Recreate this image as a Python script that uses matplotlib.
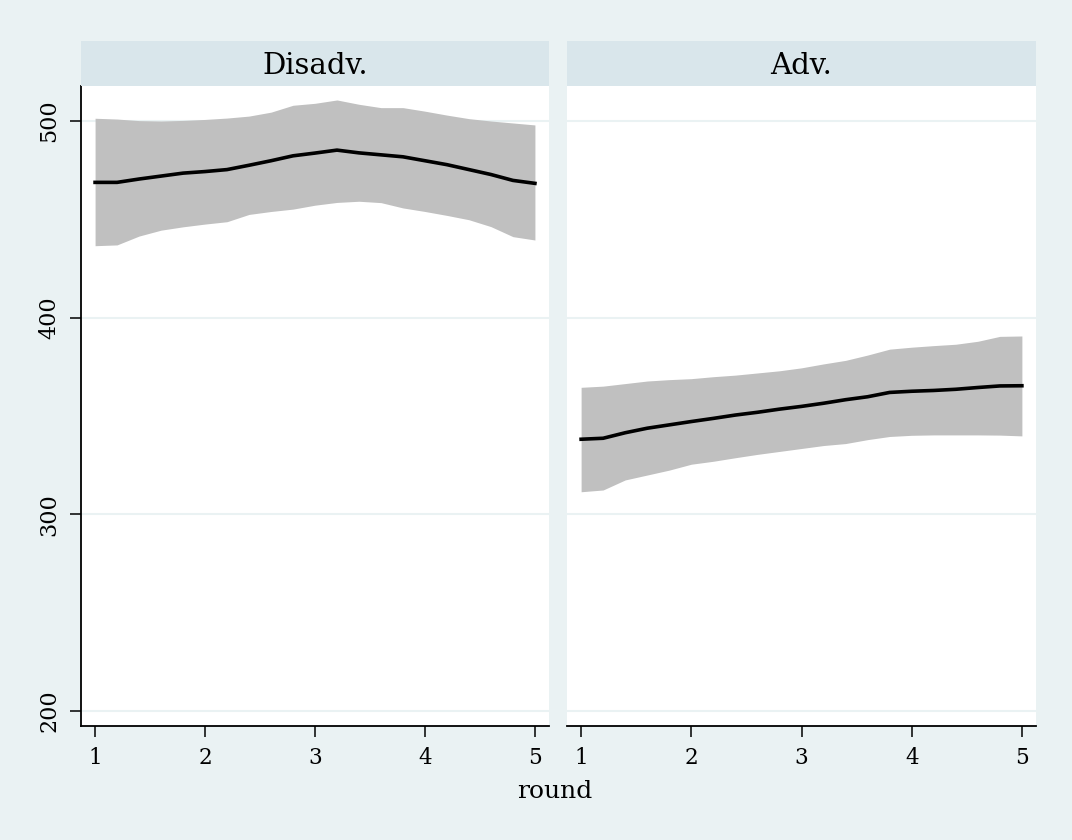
import matplotlib
matplotlib.use("Agg")
import matplotlib.pyplot as plt

# data
rounds = [1.0, 1.2, 1.4, 1.6, 1.8, 2.0, 2.2, 2.4, 2.6, 2.8, 3.0,
          3.2, 3.4, 3.6, 3.8, 4.0, 4.2, 4.4, 4.6, 4.8, 5.0]

disadv_mean = [468.8, 468.8, 470.5, 472.0, 473.5, 474.3, 475.3, 477.5, 479.8, 482.3, 483.7,
               485.2, 483.8, 482.8, 481.8, 479.8, 477.8, 475.3, 472.8, 469.8, 468.3]
disadv_hi = [501.4, 501.0, 500.2, 500.0, 500.3, 500.8, 501.5, 502.5, 504.5, 508.0, 509.0,
             510.7, 508.5, 506.8, 506.8, 505.0, 503.0, 501.2, 500.0, 499.0, 498.0]
disadv_lo = [436.6, 437.0, 441.5, 444.5, 446.2, 447.6, 448.8, 452.5, 454.0, 455.2, 457.2,
             458.6, 459.2, 458.5, 455.8, 454.0, 452.0, 449.8, 446.3, 441.2, 439.5]

adv_mean = [338.2, 338.7, 341.5, 343.8, 345.5, 347.2, 348.8, 350.5, 351.9, 353.5, 354.9,
            356.5, 358.3, 359.8, 362.0, 362.6, 363.0, 363.6, 364.5, 365.3, 365.4]
adv_hi = [364.6, 365.2, 366.5, 367.8, 368.5, 369.0, 370.0, 370.8, 371.9, 373.0, 374.5,
          376.5, 378.3, 381.0, 384.0, 385.0, 385.8, 386.5, 388.0, 390.5, 390.7]
adv_lo = [311.5, 312.4, 317.5, 320.0, 322.5, 325.5, 327.0, 328.8, 330.5, 332.0, 333.5,
          335.0, 336.0, 338.0, 339.6, 340.2, 340.4, 340.4, 340.4, 340.3, 339.9]

panels = ["Disadv.", "Adv."]
xticks = [1, 2, 3, 4, 5]
yticks = [200, 300, 400, 500]

BG = "#EAF2F3"
STRIP = "#D9E6EB"
plt.rcParams["font.family"] = "DejaVu Serif"

fig = plt.figure(figsize=(10.72, 8.4), dpi=100, facecolor=BG)
W, H = 1072, 840

def px_axes(x0, y0, x1, y1):
    return fig.add_axes([x0 / W, 1 - y1 / H, (x1 - x0) / W, (y1 - y0) / H])

series = [(disadv_mean, disadv_hi, disadv_lo), (adv_mean, adv_hi, adv_lo)]
lefts = [(81, 549), (567, 1036)]

for i, (name, (m, hi, lo), (x0, x1)) in enumerate(zip(panels, series, lefts)):
    ax = px_axes(x0, 86, x1, 726)
    ax.set_facecolor("white")
    ax.fill_between(rounds, lo, hi, color="#C0C0C0", linewidth=0, zorder=2)
    ax.plot(rounds, m, color="black", linewidth=2.6, zorder=3)
    ax.set_xlim(0.872, 5.128)
    ax.set_ylim(192.4, 517.8)
    ax.set_yticks(yticks)
    ax.set_xticks(xticks)
    ax.grid(axis="y", color=BG, linewidth=1.5, zorder=1)
    ax.grid(axis="x", visible=False)
    for s in ["top", "right"]:
        ax.spines[s].set_visible(False)
    ax.spines["bottom"].set_linewidth(1.3)
    ax.tick_params(axis="x", length=8, width=1.1, labelsize=15.5, pad=7)
    if i == 0:
        ax.spines["left"].set_linewidth(1.3)
        ax.tick_params(axis="y", length=8, width=1.1, labelsize=16, pad=7)
        for lab in ax.get_yticklabels():
            lab.set_rotation(90)
            lab.set_va("center")
    else:
        ax.spines["left"].set_visible(False)
        ax.tick_params(axis="y", length=0, labelleft=False)

    sax = px_axes(x0, 41, x1, 86)
    sax.set_facecolor(STRIP)
    sax.set_xticks([])
    sax.set_yticks([])
    for s in sax.spines.values():
        s.set_visible(False)
    sax.text(0.5, 0.45, name, ha="center", va="center", fontsize=21,
             transform=sax.transAxes)

fig.text(555 / W, 1 - 792 / H, "round", ha="center", va="center", fontsize=18)

fig.savefig("out.png", dpi=100, facecolor=BG)
